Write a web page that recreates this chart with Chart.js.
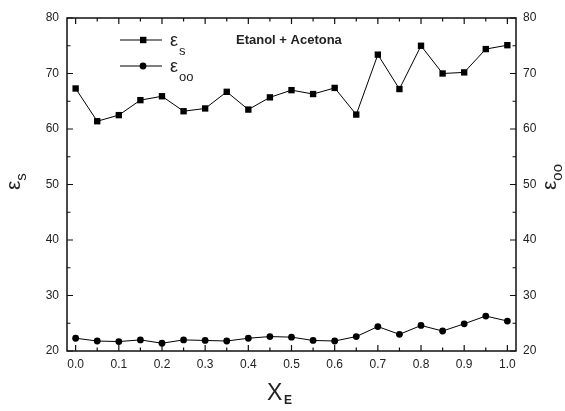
<!DOCTYPE html>
<html>
<head>
<meta charset="utf-8">
<script src="https://cdn.jsdelivr.net/npm/chart.js@4.4.1/dist/chart.umd.min.js"></script>
<style>
  html, body { margin: 0; padding: 0; background: #fff; }
  canvas { display: block; }
</style>
</head>
<body>
<canvas id="grafico" width="565" height="411"></canvas>
<script>
// fraccion molar de etanol
const xE = [0.00, 0.05, 0.10, 0.15, 0.20, 0.25, 0.30, 0.35, 0.40, 0.45, 0.50,
            0.55, 0.60, 0.65, 0.70, 0.75, 0.80, 0.85, 0.90, 0.95, 1.00];
// constante dielectrica estatica
const epsS = [67.3, 61.4, 62.5, 65.2, 65.9, 63.2, 63.7, 66.7, 63.5, 65.7, 67.0,
              66.3, 67.4, 62.6, 73.4, 67.2, 75.0, 70.0, 70.2, 74.4, 75.1];
// constante dielectrica a frecuencia infinita
const epsInf = [22.3, 21.8, 21.7, 22.0, 21.4, 22.0, 21.9, 21.8, 22.3, 22.6, 22.5,
                21.9, 21.8, 22.6, 24.4, 23.0, 24.6, 23.6, 24.9, 26.3, 25.4];

const xTicks = [0, 0.1, 0.2, 0.3, 0.4, 0.5, 0.6, 0.7, 0.8, 0.9, 1.0];
const yTicks = [20, 30, 40, 50, 60, 70, 80];

const FONT = 'Liberation Sans, Arial, sans-serif';
const textColor = '#222';

function puntos(ys) {
    return xE.map((x, i) => ({ x: x, y: ys[i] }));
}

// marco, marcas de escala, leyenda y titulos
const decorado = {
    id: 'decorado',
    afterDraw(chart) {
        const ctx = chart.ctx;
        const a = chart.chartArea;
        const sx = chart.scales.x;
        const sy = chart.scales.y;
        ctx.save();

        // marco
        ctx.strokeStyle = '#111';
        ctx.lineWidth = 1.5;
        ctx.strokeRect(a.left, a.top, a.right - a.left, a.bottom - a.top);

        // marcas del eje x (hacia dentro, abajo y arriba)
        ctx.lineWidth = 1.2;
        ctx.beginPath();
        for (let i = 0; i < xTicks.length; i++) {
            const px = sx.getPixelForValue(xTicks[i]);
            ctx.moveTo(px, a.bottom); ctx.lineTo(px, a.bottom - 6);
            ctx.moveTo(px, a.top); ctx.lineTo(px, a.top + 6);
            if (i < xTicks.length - 1) {
                const pm = sx.getPixelForValue((xTicks[i] + xTicks[i + 1]) / 2);
                ctx.moveTo(pm, a.bottom); ctx.lineTo(pm, a.bottom - 3.5);
                ctx.moveTo(pm, a.top); ctx.lineTo(pm, a.top + 3.5);
            }
        }
        // marcas de los ejes y
        for (let i = 0; i < yTicks.length; i++) {
            const py = sy.getPixelForValue(yTicks[i]);
            ctx.moveTo(a.left, py); ctx.lineTo(a.left + 6, py);
            ctx.moveTo(a.right, py); ctx.lineTo(a.right - 6, py);
            if (i < yTicks.length - 1) {
                const pm = sy.getPixelForValue((yTicks[i] + yTicks[i + 1]) / 2);
                ctx.moveTo(a.left, pm); ctx.lineTo(a.left + 3.5, pm);
                ctx.moveTo(a.right, pm); ctx.lineTo(a.right - 3.5, pm);
            }
        }
        ctx.stroke();

        // leyenda
        ctx.strokeStyle = '#000';
        ctx.fillStyle = '#000';
        ctx.lineWidth = 1;
        [40, 66].forEach((y, k) => {
            ctx.beginPath();
            ctx.moveTo(120, y); ctx.lineTo(162, y);
            ctx.stroke();
            if (k === 0) {
                ctx.fillRect(140, y - 3.2, 6.4, 6.4);
            } else {
                ctx.beginPath();
                ctx.arc(143, y, 3.4, 0, Math.PI * 2);
                ctx.fill();
            }
        });
        ctx.fillStyle = textColor;
        ctx.textAlign = 'left';
        ctx.textBaseline = 'alphabetic';
        ctx.font = '18px ' + FONT;
        ctx.fillText('ε', 170, 46);
        ctx.fillText('ε', 170, 72);
        ctx.font = '13px ' + FONT;
        ctx.fillText('s', 179, 55);
        ctx.fillText('oo', 179, 81);

        // texto del sistema
        ctx.font = 'bold 13px ' + FONT;
        ctx.fillText('Etanol + Acetona', 236, 44);

        // titulo eje x
        ctx.font = '23px ' + FONT;
        ctx.fillText('X', 267, 400);
        ctx.font = 'bold 12px ' + FONT;
        ctx.fillText('E', 284, 404);

        // titulos ejes y (girados)
        function titulo(x, y, sub) {
            ctx.save();
            ctx.translate(x, y);
            ctx.rotate(-Math.PI / 2);
            ctx.font = '21px ' + FONT;
            ctx.fillText('ε', 0, 0);
            const w = ctx.measureText('ε').width;
            ctx.font = '15px ' + FONT;
            ctx.fillText(sub, w, 6);
            ctx.restore();
        }
        titulo(20, 190, 's');
        titulo(556, 190, 'oo');

        ctx.restore();
    }
};

const ctx = document.getElementById('grafico').getContext('2d');
const chart = new Chart(ctx, {
    type: 'line',
    data: {
        datasets: [{
            label: 'εs',
            data: puntos(epsS),
            yAxisID: 'y',
            borderColor: '#000',
            backgroundColor: '#000',
            borderWidth: 1,
            pointStyle: 'rect',
            pointRadius: 4.5,
            pointBorderWidth: 0,
            tension: 0
        }, {
            label: 'εoo',
            data: puntos(epsInf),
            yAxisID: 'y2',
            borderColor: '#000',
            backgroundColor: '#000',
            borderWidth: 1,
            pointStyle: 'circle',
            pointRadius: 3.4,
            pointBorderWidth: 0,
            tension: 0
        }]
    },
    options: {
        responsive: false,
        devicePixelRatio: 1,
        animation: false,
        layout: { padding: { top: 18, left: 0, right: 0, bottom: 0 } },
        plugins: {
            legend: { display: false },
            tooltip: { enabled: false }
        },
        scales: {
            x: {
                type: 'linear',
                min: -0.02,
                max: 1.02,
                grid: { display: false, drawTicks: false },
                border: { display: false },
                afterBuildTicks: s => { s.ticks = xTicks.map(v => ({ value: v })); },
                afterFit: s => { s.height = 60; },
                ticks: {
                    padding: 6,
                    color: textColor,
                    font: { family: FONT, size: 12 },
                    maxRotation: 0,
                    callback: v => Number(v).toFixed(1)
                }
            },
            y: {
                position: 'left',
                min: 20,
                max: 80,
                grid: { display: false, drawTicks: false },
                border: { display: false },
                afterBuildTicks: s => { s.ticks = yTicks.map(v => ({ value: v })); },
                afterFit: s => { s.width = 67; },
                ticks: { padding: 8, color: textColor, font: { family: FONT, size: 12 } }
            },
            y2: {
                position: 'right',
                min: 20,
                max: 80,
                grid: { display: false, drawTicks: false },
                border: { display: false },
                afterBuildTicks: s => { s.ticks = yTicks.map(v => ({ value: v })); },
                afterFit: s => { s.width = 49; },
                ticks: { padding: 7, color: textColor, font: { family: FONT, size: 12 } }
            }
        }
    },
    plugins: [decorado]
});
</script>
</body>
</html>
